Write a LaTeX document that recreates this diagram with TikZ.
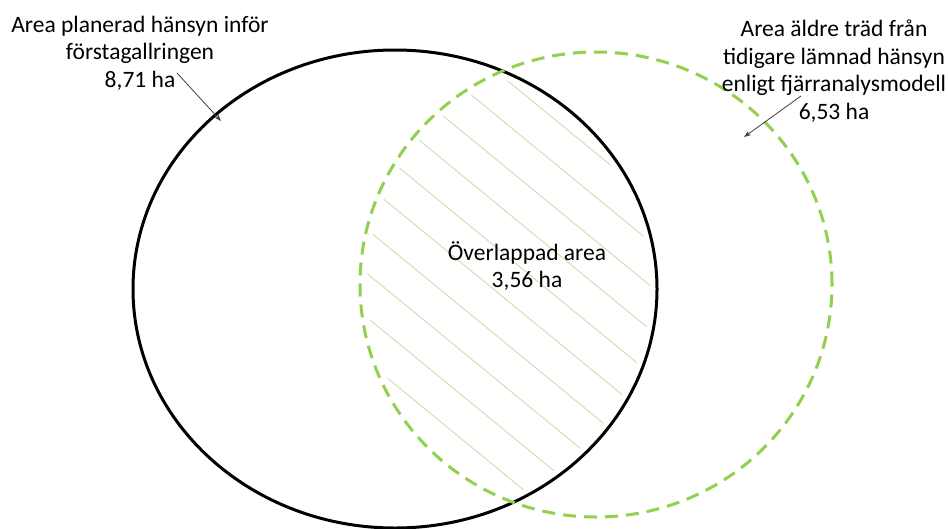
\documentclass[tikz,border=0pt]{standalone}
\usepackage{fontspec}
\setmainfont{Carlito}
\usetikzlibrary{arrows.meta}
\definecolor{pptgreen}{HTML}{92D050}
\definecolor{hatchgreen}{HTML}{C9E2A8}
\definecolor{arrowgray}{HTML}{404040}
\tikzset{
  label/.style={align=center, font=\fontsize{23.5}{27.5}\selectfont, inner sep=0pt},
  pointer/.style={draw=arrowgray, line width=0.8pt, -{Stealth[length=7pt,width=5pt]}},
  hatchline/.style={draw=hatchgreen, line width=0.9pt},
}
\begin{document}
\begin{tikzpicture}[x=1pt,y=-1pt]
\useasboundingbox[fill=white] (0,0) rectangle (948,528);
% hatching of overlap
\begin{scope}
  \clip (395,289) ellipse [x radius=255pt, y radius=232pt];
  \clip (596,284.5) ellipse [x radius=229pt, y radius=226pt];
  \foreach \k in {-10,...,16}{
    \draw[hatchline] (300,{-89.5+44*\k}) -- (700,{238.5+44*\k});
  }
\end{scope}
% circles
\draw[black, line width=3pt] (395,289) ellipse [x radius=262pt, y radius=239pt];
\draw[pptgreen, line width=3pt, dash pattern=on 13pt off 8pt] (596,284.5) ellipse [x radius=236pt, y radius=232.5pt];
% labels
\node[label] (left) at (140,53) {Area planerad hänsyn inför\\förstagallringen\\8,71 ha};
\node[label] (right) at (834,71) {Area äldre träd från\\tidigare lämnad hänsyn\\enligt fjärranalysmodell\\6,53 ha};
\node[label] (mid) at (527,266) {Överlappad area\\3,56 ha};
\coordinate (lstart) at (177,73);
\coordinate (lend) at (221,121);
\coordinate (rstart) at (801,96);
\coordinate (rend) at (744,137);
\draw[pointer] (lstart) -- (lend);
\draw[pointer] (rstart) -- (rend);
\end{tikzpicture}
\end{document}
